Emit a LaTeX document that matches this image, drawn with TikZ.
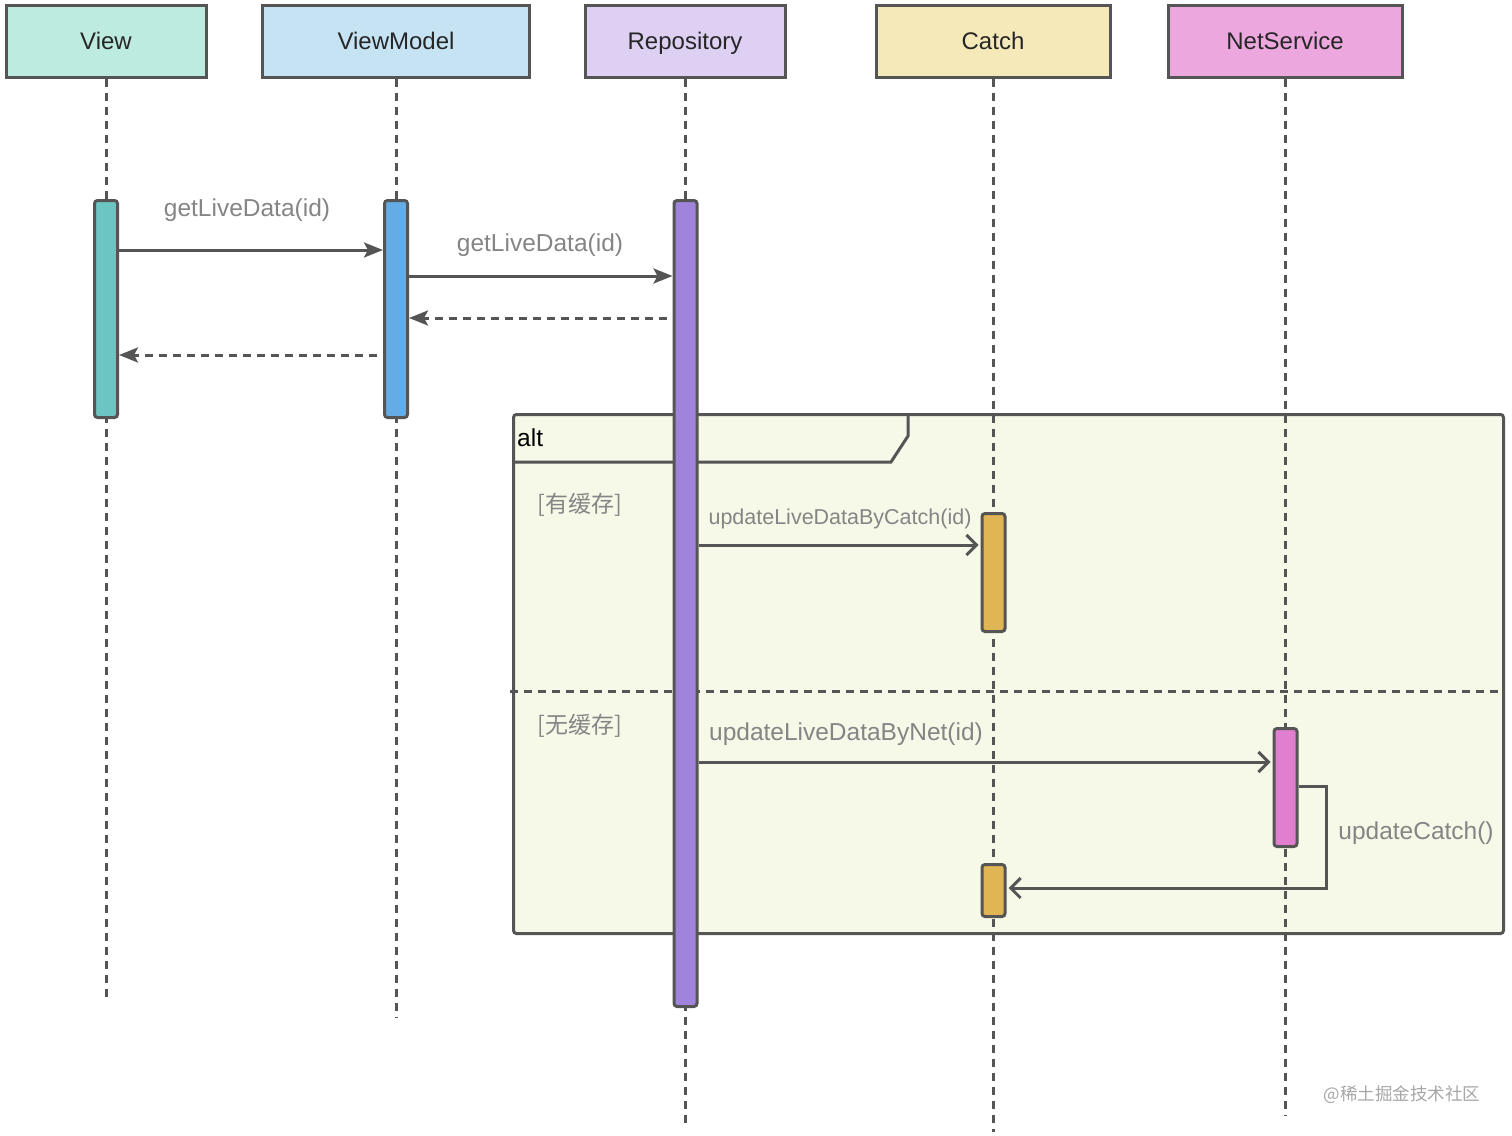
\documentclass[tikz,border=0pt]{standalone}
\usepackage{fontspec}
\setmainfont{Liberation Sans}
\newfontfamily\cjk{Noto Sans CJK SC}
\usetikzlibrary{arrows.meta}
\definecolor{bordc}{HTML}{555555}
\definecolor{labc}{HTML}{858585}
\definecolor{hView}{HTML}{BDEBE0}
\definecolor{hVM}{HTML}{C5E3F3}
\definecolor{hRepo}{HTML}{DDD0F3}
\definecolor{hCatch}{HTML}{F5E9BA}
\definecolor{hNet}{HTML}{EBA7DE}
\definecolor{bView}{HTML}{6CC5C3}
\definecolor{bVM}{HTML}{63ACE5}
\definecolor{bRepo}{HTML}{A084DC}
\definecolor{bCatch}{HTML}{E0B553}
\definecolor{bNet}{HTML}{E07FD0}
\definecolor{altfill}{HTML}{F6F8E8}
\tikzset{
  header/.style={draw=bordc, line width=3pt, minimum height=72pt, inner sep=0pt, text height=17pt, text depth=0pt, font=\fontsize{24}{28}\selectfont, text=black!85},
  lifeline/.style={draw=bordc, line width=3pt, dash pattern=on 8pt off 6pt},
  actbar/.style={draw=bordc, line width=3pt, rounded corners=3pt, minimum width=23pt, inner sep=0pt},
  msg/.style={draw=bordc, line width=3pt, -{Stealth[length=19pt,width=15pt,inset=4pt]}},
  ret/.style={draw=bordc, line width=3pt, dash pattern=on 8pt off 6pt, -{Stealth[length=19pt,width=15pt,inset=4pt]}},
  omsg/.style={draw=bordc, line width=3pt, -{Straight Barb[length=10pt,width=20pt,line width=3pt]}},
  lab/.style={text=labc, font=\fontsize{24.5}{28}\selectfont, inner sep=0pt},
  guard/.style={text=labc, font=\cjk\fontsize{23}{28}\selectfont, inner sep=0pt},
}
\begin{document}
\begin{tikzpicture}[x=1pt,y=-1pt]
\useasboundingbox (0,0) rectangle (1512,1135);
% headers
\node[header, fill=hView, minimum width=200pt] (hv) at (106,41) {View};
\node[header, fill=hVM, minimum width=267pt] (hvm) at (396,41) {ViewModel};
\node[header, fill=hRepo, minimum width=200pt] (hr) at (685,41) {Repository};
\node[header, fill=hCatch, minimum width=234pt] (hc) at (993,41) {Catch};
\node[header, fill=hNet, minimum width=234pt] (hn) at (1285,41) {NetService};
% lifeline ends
\coordinate (ev) at (106,1002);
\coordinate (evm) at (396,1018);
\coordinate (er) at (685,1125);
\coordinate (ec) at (993,1132);
\coordinate (en) at (1285,1116);
% alt frame background
\node[draw=bordc, line width=3pt, fill=altfill, rounded corners=3pt, minimum width=990pt, minimum height=519pt, inner sep=0pt, anchor=north west] (alt) at (512,413) {};
% lifelines
\draw[lifeline] (hv.south) -- (ev);
\draw[lifeline] (hvm.south) -- (evm);
\draw[lifeline] (hr.south) -- (er);
\draw[lifeline] (hc.south) -- (ec);
\draw[lifeline] (hn.south) -- (en);
% alt tab and separator
\coordinate (t1) at (512,462);
\coordinate (t2) at (891,462);
\coordinate (t3) at (908,436);
\coordinate (t4) at (908,413);
\draw[draw=bordc, line width=3pt] (t1) -- (t2) -- (t3) -- (t4);
\node[anchor=west, inner sep=0pt, font=\fontsize{24.5}{28}\selectfont] (altlab) at (517,438) {alt};
\coordinate (s1) at (510,691);
\coordinate (s2) at (1502,691);
\draw[lifeline] (s1) -- (s2);
\node[guard] (g1) at (580,505) {[有缓存]};
\node[guard] (g2) at (580,726) {[无缓存]};
% activation bars
\node[actbar, fill=bView, minimum height=217pt, anchor=north] (av) at (106,199) {};
\node[actbar, fill=bVM, minimum height=217pt, anchor=north] (avm) at (396,199) {};
\node[actbar, fill=bRepo, minimum height=806pt, anchor=north] (ar) at (685.5,199) {};
\node[actbar, fill=bCatch, minimum height=118pt, anchor=north] (ac1) at (993.5,512) {};
\node[actbar, fill=bCatch, minimum height=52pt, anchor=north] (ac2) at (993.5,863) {};
\node[actbar, fill=bNet, minimum height=118pt, anchor=north] (an) at (1285.5,727) {};
% messages
\draw[msg] (av.east |- 0,250) -- (avm.west |- 0,250);
\node[lab] (l1) at (247,210) {getLiveData(id)};
\draw[msg] (avm.east |- 0,276) -- (ar.west |- 0,276);
\node[lab] (l2) at (540,245) {getLiveData(id)};
\draw[ret] ([xshift=-6pt]ar.west |- 0,318) -- (avm.east |- 0,318);
\draw[ret] ([xshift=-6pt]avm.west |- 0,355) -- (av.east |- 0,355);
\draw[omsg] (ar.east |- 0,545) -- ([xshift=-2pt]ac1.west |- 0,545);
\node[lab, font=\fontsize{21.5}{26}\selectfont] (l3) at (840,519) {updateLiveDataByCatch(id)};
\draw[omsg] (ar.east |- 0,762) -- ([xshift=-2pt]an.west |- 0,762);
\node[lab] (l4) at (846,734) {updateLiveDataByNet(id)};
\coordinate (k1) at (1326,786);
\coordinate (k2) at (1326,888);
\draw[omsg] (an.east |- k1) -- (k1) -- (k2) -- ([xshift=2pt]ac2.east |- k2);
\node[lab] (l5) at (1416,833) {updateCatch()};
% watermark
\node[text=black!35, inner sep=0pt, font=\cjk\fontsize{17.5}{20}\selectfont] (wm) at (1402,1095) {@稀土掘金技术社区};
\end{tikzpicture}
\end{document}
